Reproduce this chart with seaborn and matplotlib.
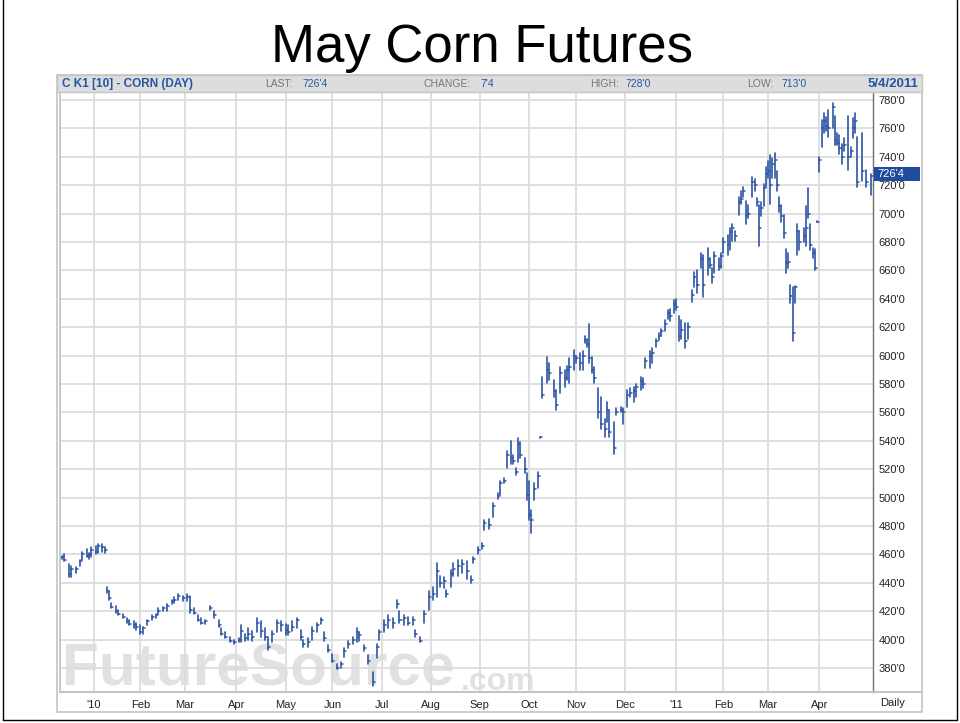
import numpy as np
import pandas as pd
import matplotlib
matplotlib.use("Agg")
import matplotlib.pyplot as plt
import seaborn as sns
from matplotlib.patches import Rectangle
from matplotlib.lines import Line2D

# ---------------- data (May corn futures, daily OHLC, trading-session number) -------------
session_no = [
    0, 1, 3, 4, 6, 8, 9, 11, 12, 13,
    15, 16, 18, 19, 20, 21, 22, 24, 25, 27,
    29, 30, 32, 33, 35, 36, 38, 40, 42, 43,
    45, 47, 49, 50, 52, 54, 56, 57, 59, 61,
    62, 64, 66, 68, 70, 71, 73, 75, 77, 79,
    80, 82, 83, 85, 87, 89, 91, 92, 94, 96,
    98, 100, 101, 103, 105, 107, 108, 110, 112, 114,
    116, 117, 119, 121, 123, 125, 126, 128, 130, 132,
    133, 135, 137, 139, 141, 142, 144, 146, 148, 150,
    151, 153, 155, 157, 158, 160, 162, 164, 166, 168,
    169, 171, 172, 174, 175, 177, 179, 181, 183, 184,
    186, 188, 189, 191, 193, 195, 196, 198, 199, 201,
    202, 203, 204, 205, 207, 208, 209, 210, 211, 213,
    214, 215, 217, 218, 220, 221, 223, 225, 226, 227,
    229, 230, 232, 233, 234, 235, 236, 237, 238, 240,
    241, 243, 244, 245, 247, 248, 250, 251, 253, 254,
    256, 257, 259, 260, 261, 263, 264, 266, 267, 268,
    270, 271, 272, 274, 275, 276, 277, 279, 280, 282,
    283, 284, 286, 287, 289, 290, 291, 292, 294, 295,
    296, 298, 299, 300, 301, 303, 304, 305, 306, 307,
    309, 310, 311, 312, 313, 314, 315, 316, 317, 318,
    319, 320, 321, 322, 323, 324, 325, 326, 327, 328,
    329, 330, 332, 333, 334, 335, 336, 337, 338, 339,
    340, 341, 342, 343, 345, 346, 347, 348, 349, 350,
    352, 353, 354, 355, 356, 358, 360, 362,
]
high = [
    459, 460, 453, 452, 451, 456, 462, 464, 461, 465,
    466, 467, 467, 465, 437, 434, 426, 424, 421, 418,
    415, 414, 413, 412, 410, 409, 414, 417, 418, 422,
    423, 425, 428, 430, 432, 431, 432, 431, 422, 417,
    415, 414, 424, 420, 414, 408, 405, 402, 400, 401,
    410, 404, 408, 406, 415, 413, 408, 402, 406, 414,
    413, 411, 410, 413, 415, 407, 400, 401, 409, 412,
    415, 405, 396, 390, 383, 384, 394, 399, 402, 408,
    405, 396, 389, 377, 397, 407, 414, 417, 415, 428,
    420, 417, 416, 416, 407, 402, 420, 434, 437, 454,
    445, 444, 435, 449, 454, 456, 456, 455, 445, 458,
    465, 468, 484, 485, 496, 503, 512, 514, 533, 540,
    530, 521, 542, 539, 528, 517, 512, 491, 510, 518,
    543, 585, 599, 595, 583, 576, 592, 590, 593, 598,
    604, 600, 602, 603, 614, 612, 622, 599, 592, 577,
    571, 555, 567, 562, 553, 563, 564, 563, 576, 577,
    578, 580, 585, 584, 598, 603, 605, 612, 616, 619,
    625, 632, 633, 639, 640, 628, 625, 623, 623, 646,
    659, 660, 672, 671, 676, 669, 662, 673, 669, 672,
    683, 685, 690, 693, 688, 712, 716, 719, 709, 706,
    726, 724, 711, 706, 708, 721, 733, 737, 741, 739,
    743, 730, 712, 706, 699, 675, 672, 650, 648, 649,
    693, 688, 690, 705, 718, 693, 676, 675, 695, 740,
    766, 771, 768, 773, 778, 769, 757, 755, 749, 753,
    769, 747, 767, 771, 754, 757, 731, 728,
]
low = [
    457, 455, 444, 444, 447, 452, 456, 458, 457, 458,
    460, 461, 462, 461, 433, 428, 422, 419, 417, 415,
    412, 410, 408, 407, 404, 404, 410, 414, 415, 418,
    420, 420, 425, 426, 428, 427, 427, 419, 418, 413,
    411, 411, 421, 415, 409, 403, 401, 398, 397, 398,
    398, 399, 400, 399, 405, 402, 400, 393, 398, 405,
    406, 403, 403, 406, 408, 400, 395, 395, 400, 405,
    411, 399, 391, 384, 379, 380, 388, 394, 397, 398,
    399, 392, 383, 367, 387, 400, 405, 408, 408, 422,
    412, 410, 410, 410, 402, 398, 412, 421, 428, 430,
    437, 436, 430, 437, 445, 445, 447, 443, 440, 454,
    460, 464, 477, 478, 486, 499, 502, 510, 521, 524,
    524, 516, 525, 528, 517, 498, 484, 475, 498, 507,
    542, 570, 581, 583, 571, 562, 574, 578, 583, 581,
    590, 595, 590, 590, 609, 606, 595, 588, 581, 556,
    548, 543, 553, 543, 531, 558, 560, 552, 564, 571,
    567, 571, 576, 577, 591, 591, 595, 606, 611, 614,
    617, 626, 624, 630, 632, 610, 612, 605, 612, 638,
    648, 644, 662, 641, 657, 662, 651, 658, 660, 662,
    672, 671, 674, 681, 681, 699, 707, 712, 693, 697,
    712, 716, 705, 677, 698, 705, 719, 725, 707, 725,
    725, 716, 701, 694, 683, 658, 662, 637, 610, 637,
    671, 674, 680, 677, 697, 674, 669, 660, 694, 729,
    747, 757, 758, 754, 760, 748, 748, 742, 735, 744,
    731, 740, 753, 757, 719, 723, 719, 713,
]
close = [
    458, 456, 446, 450, 450, 455, 460, 459, 460, 463,
    462, 466, 465, 463, 434, 429, 423, 420, 418, 416,
    413, 411, 410, 409, 405, 408, 413, 416, 417, 420,
    422, 424, 427, 428, 431, 429, 430, 421, 419, 414,
    412, 413, 422, 417, 410, 404, 402, 399, 398, 400,
    406, 401, 404, 402, 412, 406, 402, 395, 404, 412,
    410, 407, 405, 409, 414, 402, 397, 398, 406, 410,
    414, 401, 393, 385, 380, 383, 392, 397, 400, 405,
    403, 394, 385, 370, 395, 405, 410, 414, 412, 425,
    414, 415, 412, 414, 404, 399, 418, 430, 432, 448,
    440, 441, 432, 446, 450, 452, 453, 448, 442, 457,
    463, 466, 482, 481, 494, 501, 510, 512, 530, 528,
    526, 518, 538, 530, 520, 502, 488, 484, 506, 515,
    543, 572, 590, 588, 575, 565, 588, 584, 590, 592,
    600, 598, 595, 600, 611, 608, 598, 590, 584, 560,
    552, 548, 562, 546, 535, 560, 562, 560, 572, 574,
    575, 578, 582, 580, 596, 600, 602, 610, 614, 617,
    622, 630, 628, 636, 634, 614, 618, 610, 620, 643,
    655, 650, 668, 650, 668, 664, 655, 670, 663, 670,
    680, 678, 687, 690, 684, 708, 710, 716, 698, 700,
    722, 720, 708, 690, 704, 718, 728, 730, 720, 735,
    738, 720, 705, 698, 686, 665, 666, 642, 616, 648,
    688, 680, 684, 690, 700, 678, 672, 662, 694, 738,
    760, 765, 762, 760, 775, 752, 750, 746, 740, 748,
    740, 744, 760, 765, 722, 730, 722, 726.5,
]
price_ticks = list(range(380, 781, 20))
month_labels = ["'10", "Feb", "Mar", "Apr", "May", "Jun", "Jul", "Aug", "Sep",
                "Oct", "Nov", "Dec", "'11", "Feb", "Mar", "Apr"]
title = "May Corn Futures"
symbol_text = "C K1 [10] - CORN (DAY)"
last_text, change_text, high_text, low_text = "726'4", "7'4", "728'0", "713'0"
date_text = "5/4/2011"

assert len(session_no) == len(high) == len(low) == len(close)

# trading calendar for the session axis
sessions = pd.bdate_range("2009-12-14", "2011-05-04")
months = pd.period_range("2010-01", "2011-04", freq="M")
month_pos = [int(np.argmax((sessions.year == m.year) & (sessions.month == m.month))) for m in months]

# ---------------- drawing -------------
W, H = 960, 723
BLUE = "#2E54A6"
GRID = "#DCDCDC"
FRAME = "#C4C4C4"

sns.set_theme(style="white")
plt.rcParams["font.family"] = ["Liberation Sans", "DejaVu Sans"]

fig = plt.figure(figsize=(W / 100, H / 100), dpi=100)
fig.patch.set_facecolor("white")


def fx(x):
    return x / W


def fy(y):
    return 1 - y / H


ax = fig.add_axes([fx(60), fy(692), (873 - 60) / W, (692 - 93) / H])

df = pd.DataFrame({"session": session_no, "high": high, "low": low, "close": close})
df["bar"] = np.arange(len(df))
hl = pd.concat([df.assign(price=df["low"]), df.assign(price=df["high"])]).sort_values("bar", kind="stable")
sns.lineplot(data=hl, x="session", y="price", units="bar", estimator=None, sort=False,
             color=BLUE, lw=1.2, ax=ax, legend=False, zorder=3)
ct = pd.concat([df.assign(pos=df["session"], price=df["close"]),
                df.assign(pos=df["session"] + 0.9, price=df["close"])]).sort_values("bar", kind="stable")
sns.lineplot(data=ct, x="pos", y="price", units="bar", estimator=None, sort=False,
             color=BLUE, lw=1.1, ax=ax, legend=False, zorder=3)

ax.set_xlim(-1, len(sessions))
ax.set_ylim(363.1, 784.9)
ax.set_xlabel("")
ax.set_ylabel("")

ax.set_yticks(price_ticks)
ax.set_yticklabels([f"{v}'0" for v in price_ticks])
ax.yaxis.tick_right()
ax.tick_params(axis="y", length=0, pad=4, labelsize=8, labelcolor="#222222")
ax.set_xticks(month_pos)
ax.set_xticklabels(month_labels)
ax.tick_params(axis="x", length=0, pad=6, labelsize=8, labelcolor="#222222")
ax.grid(True, color=GRID, lw=1.3)
ax.set_axisbelow(True)
ax.spines["top"].set_visible(False)
ax.spines["left"].set_color(FRAME)
ax.spines["bottom"].set_color(FRAME)
ax.spines["bottom"].set_linewidth(1.5)
ax.spines["right"].set_color("#707070")
ax.spines["right"].set_linewidth(1.0)

# watermark
ax.text(fx(62), fy(697), "FutureSource", transform=fig.transFigure, fontsize=43.5,
        fontweight="bold", color="#E1E1E1", va="bottom", ha="left", zorder=0.1)
ax.text(fx(461), fy(697), ".com", transform=fig.transFigure, fontsize=23,
        fontweight="bold", color="#E1E1E1", va="bottom", ha="left", zorder=0.1)

# chart frame, header bar and bottom strip
fig.add_artist(Rectangle((fx(57), fy(712)), (922 - 57) / W, (712 - 75) / H, transform=fig.transFigure,
                         fill=False, edgecolor=FRAME, lw=1.2))
fig.add_artist(Rectangle((fx(57), fy(92)), (922 - 57) / W, (92 - 75) / H, transform=fig.transFigure,
                         facecolor="#DDDDDD", edgecolor=FRAME, lw=1.0))
fig.add_artist(Line2D([fx(873), fx(922)], [fy(692), fy(692)], transform=fig.transFigure,
                      color=FRAME, lw=1.5))
fig.text(fx(893), fy(703), "Daily", ha="center", va="center", fontsize=8, color="#222222")

# last price flag
fig.add_artist(Rectangle((fx(874), fy(181)), (920 - 874) / W, 14 / H, transform=fig.transFigure,
                         facecolor="#1F4C9E", edgecolor="none"))
fig.text(fx(877), fy(174), last_text, ha="left", va="center", fontsize=8, color="white")

# header texts
hy = fy(84)
fig.text(fx(62), hy, symbol_text, ha="left", va="center", fontsize=8.5, fontweight="bold", color="#2456A4")
fig.text(fx(265), hy, "LAST:", ha="left", va="center", fontsize=7.5, color="#777777")
fig.text(fx(302), hy, last_text, ha="left", va="center", fontsize=7.5, color="#2456A4")
fig.text(fx(424), hy, "CHANGE:", ha="left", va="center", fontsize=7.5, color="#777777")
fig.text(fx(480), hy, change_text, ha="left", va="center", fontsize=7.5, color="#2456A4")
fig.text(fx(590), hy, "HIGH:", ha="left", va="center", fontsize=7.5, color="#777777")
fig.text(fx(625), hy, high_text, ha="left", va="center", fontsize=7.5, color="#2456A4")
fig.text(fx(747), hy, "LOW:", ha="left", va="center", fontsize=7.5, color="#777777")
fig.text(fx(781), hy, low_text, ha="left", va="center", fontsize=7.5, color="#2456A4")
fig.text(fx(918), hy, date_text, ha="right", va="center", fontsize=9.5, fontweight="bold", color="#2456A4")

# title
fig.text(fx(482), fy(62), title, ha="center", va="baseline", fontsize=38, color="black")

# slide border
for xs, ys in [([fx(2.5), fx(2.5)], [fy(0), fy(720)]),
               ([fx(957), fx(957)], [fy(0), fy(720)]),
               ([fx(2.5), fx(957)], [fy(720), fy(720)])]:
    fig.add_artist(Line2D(xs, ys, transform=fig.transFigure, color="black", lw=1.0))

fig.savefig("out.png", dpi=100, facecolor="white")
